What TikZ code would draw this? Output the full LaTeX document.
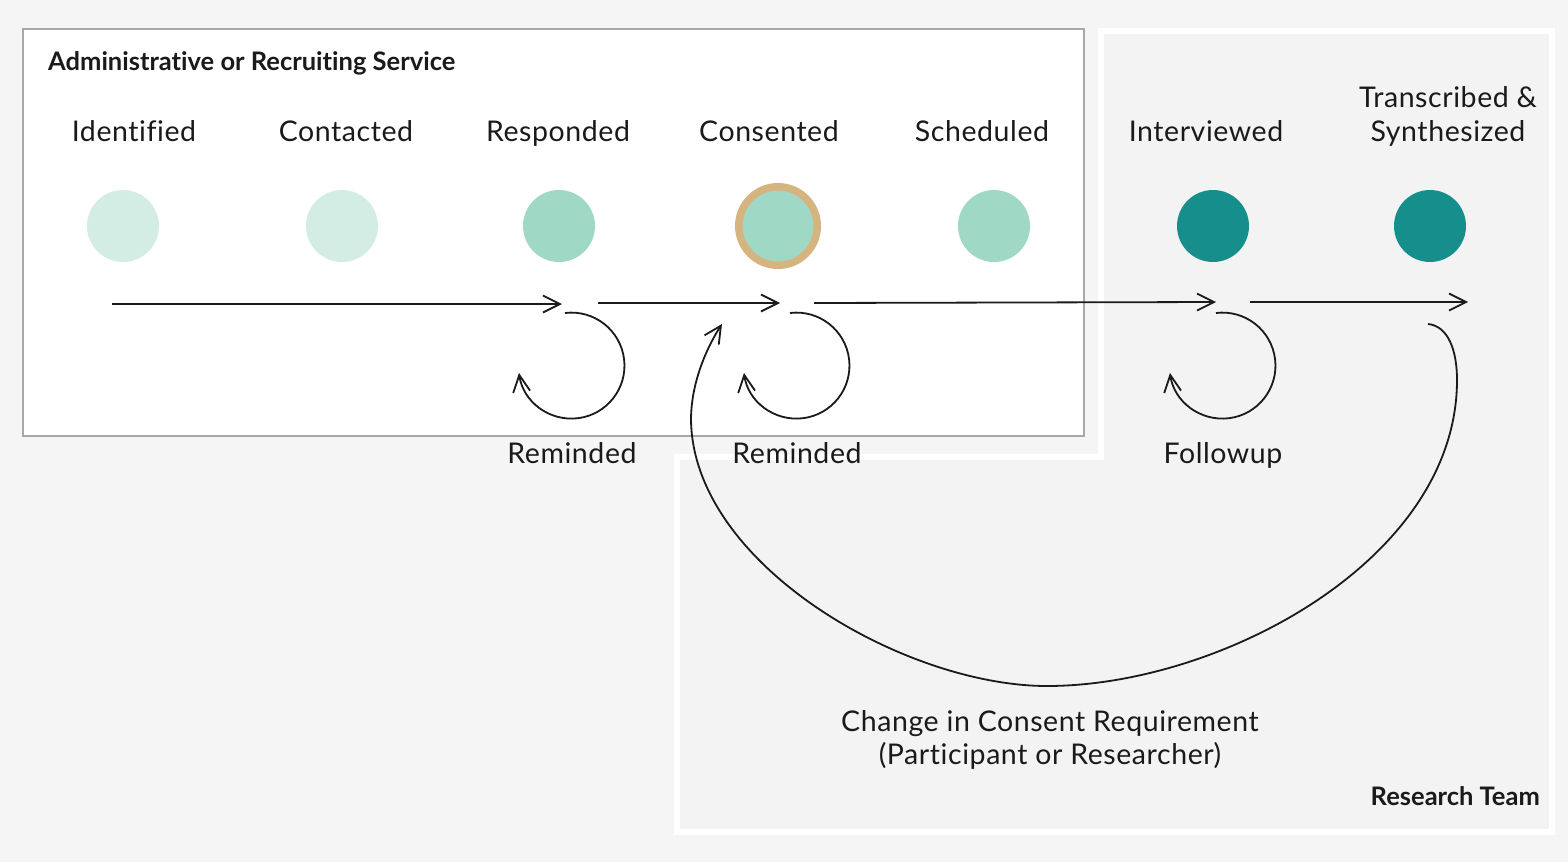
\documentclass[tikz,border=0pt]{standalone}
\usepackage{fontspec}
\setmainfont{Lato}[LetterSpace=2,Ligatures=NoCommon]
\newfontfamily\titlefont{Lato}[BoldFont={Lato Bold},Ligatures=NoCommon]
\usetikzlibrary{arrows.meta}
\definecolor{bgc}{HTML}{F5F5F5}
\definecolor{rtfill}{HTML}{F3F3F3}
\definecolor{boxline}{HTML}{A8A8A8}
\definecolor{lightc}{HTML}{D4EDE4}
\definecolor{midc}{HTML}{A0D8C6}
\definecolor{darkc}{HTML}{168E8C}
\definecolor{tanc}{HTML}{D6B47F}
\definecolor{ink}{HTML}{1A1A1A}
\tikzset{
  dot/.style={circle, inner sep=0pt, minimum size=72pt},
  lbl/.style={anchor=base, font=\fontsize{28.5}{34}\selectfont, text=ink, inner sep=0pt},
  ttl/.style={inner sep=0pt, font=\titlefont\bfseries\fontsize{25.5}{30}\selectfont, text=ink},
  arr/.style={draw=ink, line width=1.8pt, -{Straight Barb[length=17pt,width=17pt,line width=1.8pt]}},
}
\begin{document}
\begin{tikzpicture}[x=1pt,y=-1pt]
\useasboundingbox (0,0) rectangle (1568,862);
\fill[bgc] (0,0) rectangle (1568,862);
% research team region
\draw[fill=rtfill, draw=white, line width=5.5pt]
  (1101,31) -- (1552,31) -- (1552,832) -- (677,832) -- (677,457) -- (1101,457) -- cycle;
% admin box
\draw[fill=white, draw=boxline, line width=2pt] (23,29) rectangle (1084,436);
\node[ttl, anchor=base west] (admin) at (48,70) {Administrative or Recruiting Service};
\node[ttl, anchor=base east] (team) at (1540,805) {Research Team};
% circles
\node[dot, fill=lightc] (c1) at (123,226) {};
\node[dot, fill=lightc] (c2) at (342,226) {};
\node[dot, fill=midc] (c3) at (559,226) {};
\node[circle, inner sep=0pt, minimum size=78.5pt, fill=midc, draw=tanc, line width=7.5pt] (c4) at (778,226) {};
\node[dot, fill=midc] (c5) at (994,226) {};
\node[dot, fill=darkc] (c6) at (1213,226) {};
\node[dot, fill=darkc] (c7) at (1430,226) {};
% labels
\node[lbl] (l1) at (134,141) {Identified};
\node[lbl] (l2) at (346,141) {Contacted};
\node[lbl] (l3) at (558,141) {Responded};
\node[lbl] (l4) at (769,141) {Consented};
\node[lbl] (l5) at (982,141) {Scheduled};
\node[lbl] (l6) at (1206,141) {Interviewed};
\node[lbl] (l7a) at (1448,107) {Transcribed \&};
\node[lbl] (l7b) at (1448,141) {Synthesized};
\node[lbl] (r1) at (572,463) {Reminded};
\node[lbl] (r2) at (797,463) {Reminded};
\node[lbl] (f1) at (1223,463) {Followup};
\node[lbl] (ch1) at (1050,731) {Change in Consent Requirement};
\node[lbl] (ch2) at (1050,764) {(Participant or Researcher)};
% arrow coordinates
\coordinate (a1s) at (112,304); \coordinate (a1e) at (562,304);
\coordinate (a2s) at (598,303); \coordinate (a2e) at (780,303);
\coordinate (a3s) at (814,303); \coordinate (a3e) at (1216,302);
\coordinate (a4s) at (1250,302); \coordinate (a4e) at (1468,302);
\draw[arr] (a1s) -- (a1e);
\draw[arr] (a2s) -- (a2e);
\draw[arr] (a3s) -- (a3e);
\draw[arr] (a4s) -- (a4e);
% loops
\coordinate (lp1) at (565,313);
\coordinate (lp2) at (790,313);
\coordinate (lp3) at (1216,313);
\draw[arr] (lp1) arc[start angle=-97, end angle=172, radius=53];
\draw[arr] (lp2) arc[start angle=-97, end angle=172, radius=53];
\draw[arr] (lp3) arc[start angle=-97, end angle=172, radius=53];
% big return curve
\coordinate (bs) at (1428,324);
\coordinate (be) at (722,324);
\draw[arr] (bs) .. controls (1448,326) and (1457,350) .. (1457,380)
  .. controls (1457,560) and (1220,686) .. (1047,686)
  .. controls (905,686) and (693,565) .. (691,420)
  .. controls (691,380) and (709,344) .. (be);
\end{tikzpicture}
\end{document}
